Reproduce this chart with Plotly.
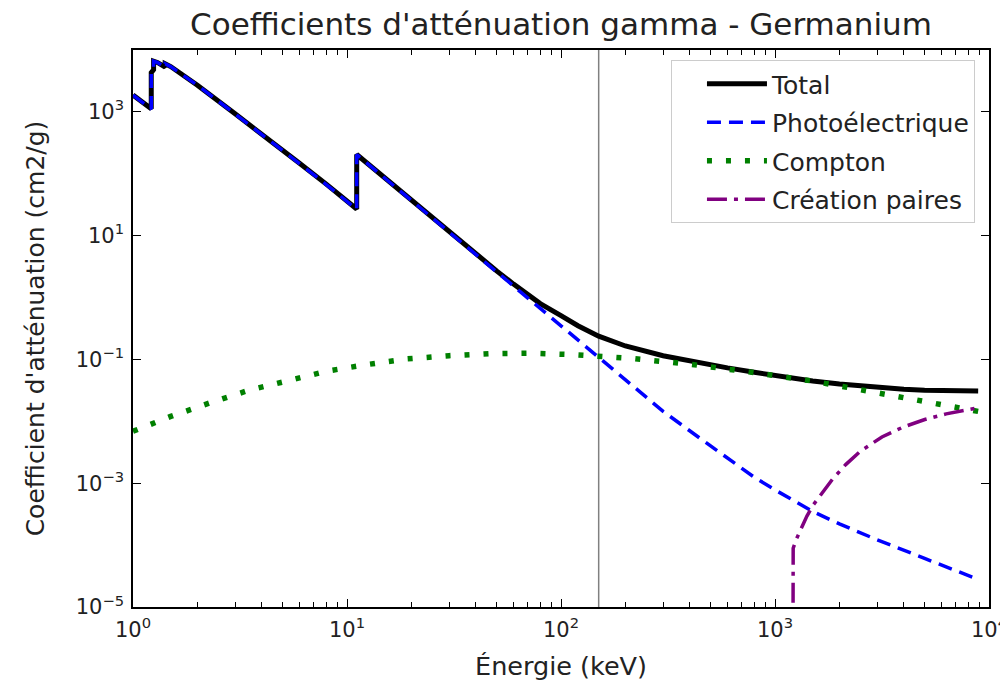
import plotly.graph_objects as go

# ---- Data ----
energy_total = [1.0, 1.1, 1.217, 1.217, 1.248, 1.248, 1.30, 1.414, 1.414, 1.5, 2.0, 3.0, 4.0, 5.0,
                6.0, 8.0, 10.0, 11.1, 11.1, 15, 20, 30, 40, 50, 60, 80, 100, 120, 150, 200,
                300, 400, 600, 800, 1000, 1500, 2000, 3000, 4000, 5000, 6000, 8000, 8900]
total = [1870, 1450, 1120, 4300, 4800, 6600, 6300, 5300, 6000, 5400, 2700, 930, 440, 240,
         148, 68, 37, 27, 205, 86, 37.5, 11.6, 5.0, 2.7, 1.65, 0.80, 0.51, 0.35, 0.238, 0.165,
         0.115, 0.094, 0.073, 0.062, 0.055, 0.045, 0.040, 0.035, 0.033, 0.0318, 0.0312, 0.0308, 0.0308]

energy_photo = [1.0, 1.1, 1.217, 1.217, 1.248, 1.248, 1.30, 1.414, 1.414, 1.5, 2.0, 3.0, 4.0, 5.0,
                6.0, 8.0, 10.0, 11.1, 11.1, 15, 20, 30, 40, 50, 60, 80, 100, 120, 150, 200,
                300, 500, 800, 1000, 1500, 2000, 3000, 5000, 8900]
photo = [1860, 1440, 1110, 4290, 4790, 6590, 6290, 5290, 5990, 5390, 2690, 925, 437, 238,
         146, 67, 36.5, 26.6, 204, 85.5, 37.0, 11.3, 4.85, 2.55, 1.5, 0.66, 0.345, 0.205, 0.108, 0.048,
         0.0145, 0.0040, 0.00125, 0.00078, 0.00035, 0.00022, 0.000122, 0.000061, 0.000028]

energy_compton = [1.0, 1.5, 2.3, 3.5, 5.4, 8.1, 12.5, 19, 30, 46, 71, 110, 207, 408, 778,
                  1485, 2830, 5400, 8900]
compton = [0.0069, 0.012, 0.020, 0.032, 0.046, 0.065, 0.083, 0.102, 0.115, 0.124, 0.126, 0.12,
           0.105, 0.083, 0.062, 0.045, 0.030, 0.020, 0.0145]

energy_pair = [1210, 1216, 1260, 1320, 1410, 1510, 1660, 1860, 2140, 2510, 3160, 3980, 5010, 6310, 8900]
pair = [1e-8, 8.9e-5, 1.26e-4, 1.82e-4, 2.95e-4, 4.47e-4, 7.1e-4, 1.17e-3, 2.0e-3, 3.3e-3,
        5.6e-3, 8.1e-3, 0.0107, 0.0132, 0.0166]

e_line = 150  # keV, vertical marker

x_tickvals = [1, 10, 100, 1000, 10000]
x_ticktext = ["10<sup>0</sup>", "10<sup>1</sup>", "10<sup>2</sup>", "10<sup>3</sup>", "10<sup>4</sup>"]
y_tickvals = [1e-5, 1e-3, 1e-1, 1e1, 1e3]
y_ticktext = ["10<sup>\u22125</sup>", "10<sup>\u22123</sup>", "10<sup>\u22121</sup>", "10<sup>1</sup>", "10<sup>3</sup>"]

x_minor = [m * 10 ** k for k in range(4) for m in range(2, 10)]

FONT = "DejaVu Sans"
TXT = "#222222"
W, H = 1000, 675  # page body adds an 8px margin on each side

fig = go.Figure()
fig.add_trace(go.Scatter(x=energy_total, y=total, mode="lines", name="Total",
                         line=dict(color="black", width=5), legendgroup="a"))
fig.add_trace(go.Scatter(x=energy_photo, y=photo, mode="lines", name="Photoélectrique",
                         line=dict(color="#0000ff", width=3.5, dash="14px,8px"), legendgroup="b"))
fig.add_trace(go.Scatter(x=energy_compton, y=compton, mode="lines", name="Compton",
                         line=dict(color="#008000", width=5.5, dash="5px,14px"), legendgroup="c"))
fig.add_trace(go.Scatter(x=energy_pair, y=pair, mode="lines", name="Création paires",
                         line=dict(color="#800080", width=3.5, dash="20px,7px,4px,7px"), legendgroup="d"))

fig.add_shape(type="line", x0=e_line, x1=e_line, xref="x", y0=0, y1=1, yref="paper",
              line=dict(color="#808080", width=1.5), layer="below")

axis_common = dict(showline=True, linecolor="black", linewidth=1.5, mirror="ticks",
                   ticks="inside", ticklen=8, tickwidth=1.2, tickcolor="black",
                   showgrid=False, zeroline=False, automargin=False, ticklabelstandoff=3,
                   ticklabeloverflow="allow",
                   tickfont=dict(family=FONT, size=21, color=TXT))

fig.update_xaxes(type="log", range=[0, 4], tickvals=x_tickvals, ticktext=x_ticktext,
                 minor=dict(tickvals=x_minor, ticks="inside", ticklen=5, tickwidth=1, tickcolor="black"),
                 title=dict(text="Énergie (keV)", font=dict(family=FONT, size=25.5, color=TXT), standoff=16),
                 **axis_common)
fig.update_yaxes(type="log", range=[-5, 4], tickvals=y_tickvals, ticktext=y_ticktext,
                 title=dict(text="Coefficient d'atténuation (cm2/g)", font=dict(family=FONT, size=25, color=TXT), standoff=24),
                 **axis_common)

fig.update_layout(
    width=W, height=H,
    margin=dict(l=125, r=19, t=42, b=76),
    paper_bgcolor="white", plot_bgcolor="white",
    title=dict(text="Coefficients d'atténuation gamma - Germanium", x=0.5, xref="paper",
               y=1 - 16 / H, yanchor="middle",
               font=dict(family=FONT, size=31, color=TXT)),
    legend=dict(x=0.9836, y=0.982, xanchor="right", yanchor="top",
                bgcolor="rgba(255,255,255,0.85)", bordercolor="#cccccc", borderwidth=1,
                font=dict(family=FONT, size=25, color=TXT),
                itemwidth=60, indentation=30, tracegroupgap=3),
    showlegend=True,
)

fig.write_html("out.html")
